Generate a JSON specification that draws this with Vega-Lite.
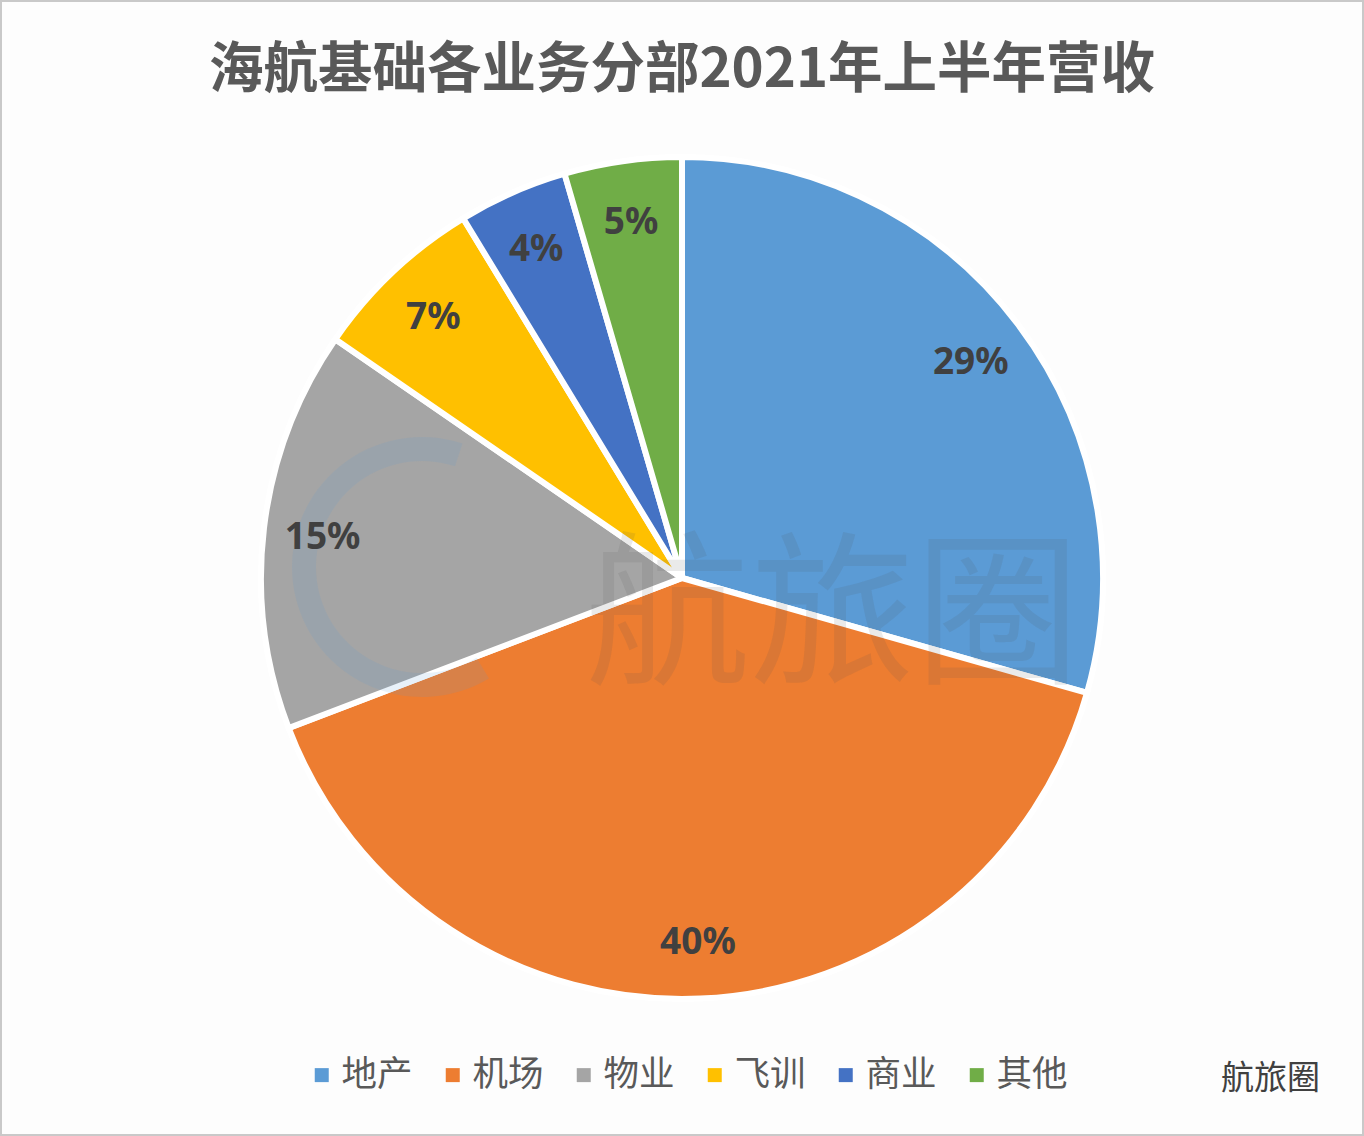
{
"$schema":"https://vega.github.io/schema/vega-lite/v6.json",
"width":1364,"height":1136,"padding":0,"autosize":{"type":"none"},
"background":"#fdfdfd",
"view":{"stroke":"#c9c9c9","strokeWidth":4},
"title":{"text":"海航基础各业务分部2021年上半年营收","font":"Noto Sans CJK SC","fontSize":54.5,"fontWeight":"bold","color":"#595959","anchor":"middle","offset":-142,"baseline":"alphabetic"},
"config":{"font":"Noto Sans CJK SC"},
"data":{"values":[
{"部分":"地产","营收占比":29.4,"标签":"29%"},
{"部分":"机场","营收占比":39.8,"标签":"40%"},
{"部分":"物业","营收占比":15.4,"标签":"15%"},
{"部分":"飞训","营收占比":6.7,"标签":"7%"},
{"部分":"商业","营收占比":4.2,"标签":"4%"},
{"部分":"其他","营收占比":4.5,"标签":"5%"}
]},
"layer":[
{"mark":{"type":"arc","outerRadius":421,"yOffset":10,"stroke":"#ffffff","strokeWidth":6},
 "encoding":{
  "theta":{"field":"营收占比","type":"quantitative","stack":true},
  "order":{"field":"序","type":"quantitative"},
  "color":{"field":"部分","type":"nominal","sort":["地产","机场","物业","飞训","商业","其他"],
   "scale":{"domain":["地产","机场","物业","飞训","商业","其他"],"range":["#5b9bd5","#ed7d31","#a5a5a5","#ffc000","#4472c4","#70ad47"]},
   "legend":{"orient":"none","legendX":304,"legendY":1057,"direction":"horizontal","columns":6,"title":null,"symbolType":"square","symbolSize":196,"symbolStrokeWidth":0,"labelFontSize":35.5,"labelColor":"#595959","labelFont":"Noto Sans CJK SC","labelOffset":2,"columnPadding":22,"labelLimit":120,"symbolOpacity":1}}
 }},
{"data":{"values":[{"徽标":"航旅圈"}]},
 "mark":{"type":"arc","innerRadius":106,"outerRadius":130,"theta":2.6,"theta2":6.6,"xOffset":-260,"yOffset":-1,"color":"#5b9bd5","opacity":0.14},
 "encoding":{}},
{"mark":{"type":"text","radius":362,"yOffset":10,"dy":3,"fontSize":37,"fontWeight":"bold","font":"Noto Sans","color":"#404040"},
 "encoding":{
  "theta":{"field":"营收占比","type":"quantitative","stack":true},
  "order":{"field":"序","type":"quantitative"},
  "text":{"field":"标签","type":"nominal"}
 }},
{"mark":{"type":"text","opacity":0},
 "encoding":{
  "x":{"field":"营收占比","type":"quantitative","axis":{"title":"航旅圈","titleFontSize":33,"titleFontWeight":"normal","titleColor":"#404040","titleX":1270,"titleY":-74,"titleAnchor":"middle","domain":false,"ticks":false,"labels":false,"grid":false,"zindex":1}},
  "y":{"field":"营收占比","type":"quantitative","axis":{"title":"航旅圈","titleFontSize":165,"titleFontWeight":"normal","titleColor":"#555555","titleOpacity":0.12,"titleAngle":0,"titleX":832,"titleY":705,"titleAnchor":"middle","domain":false,"ticks":false,"labels":false,"grid":false,"zindex":1}}
 }}
]
}
